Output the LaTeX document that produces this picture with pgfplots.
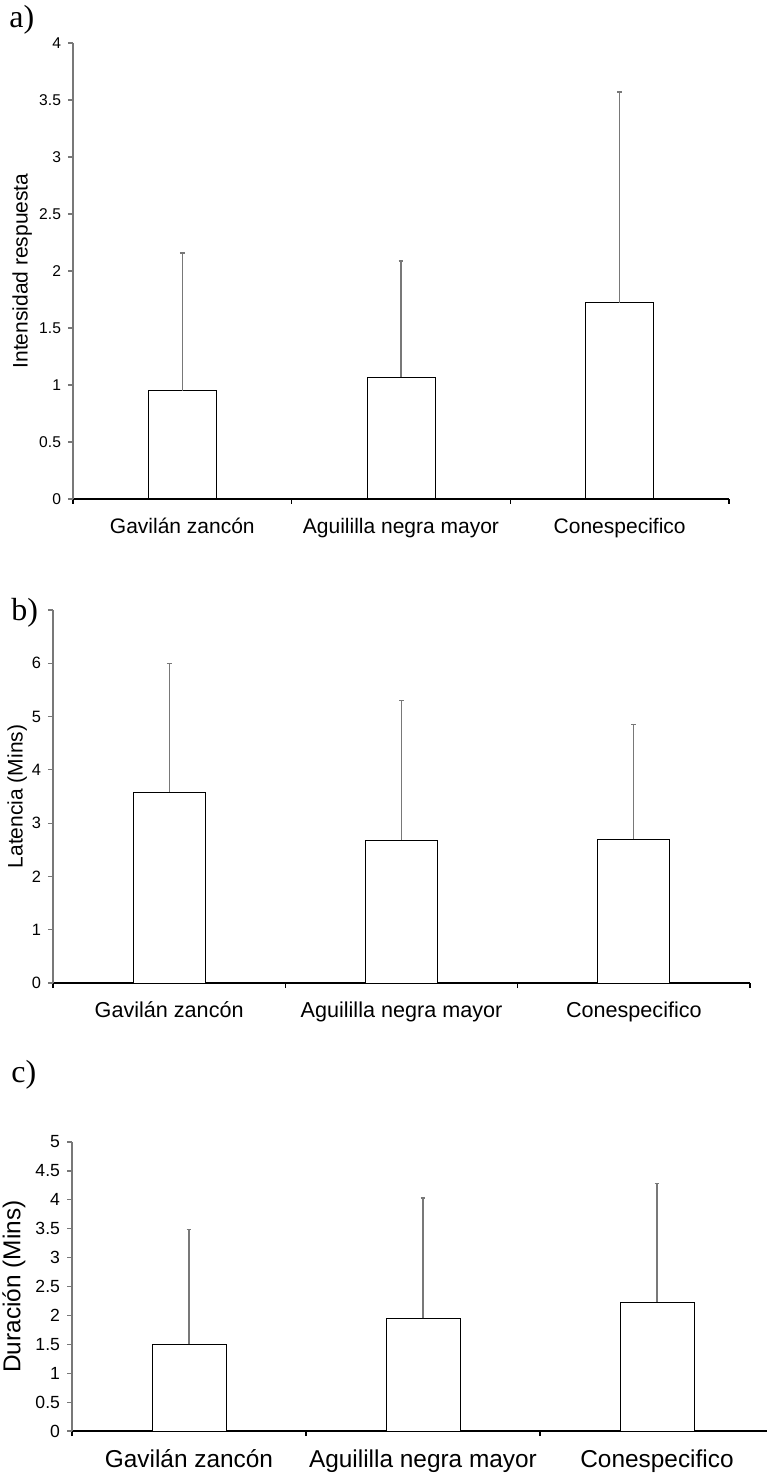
\documentclass[border=0pt]{standalone}
\usepackage{pgfplots}
\pgfplotsset{compat=1.18}
\usepackage{fontspec}
\setmainfont{Liberation Sans}
\newfontfamily\seriffont{Liberation Serif}
\definecolor{axgray}{RGB}{120,120,120}
\pgfplotsset{
  myax/.style={
    scale only axis, axis lines=left, axis line style={-},
    x axis line style={black, line width=0.6pt},
    y axis line style={axgray, line width=0.8pt},
    xmin=-0.5, xmax=2.5, ymin=0,
    xtick={-0.5,0.5,1.5,2.5}, xticklabels={},
    extra x ticks={0,1,2},
    extra x tick labels={Gavilán zancón, Aguililla negra mayor, Conespecifico},
    extra x tick style={major tick length=0pt},
    tick align=outside, major tick length=2.5pt,
    ytick style={axgray, line width=0.6pt}, xtick style={black, line width=0.6pt},
    /pgf/number format/assume math mode=true,
    ybar,
    clip=false,
  },
  mybar/.style={draw=black, fill=white, line width=0.5pt,
    error bars/.cd, y dir=plus, y explicit,
    error bar style={axgray, line width=0.6pt},
    error mark options={axgray, line width=0.8pt, mark size=1.2pt, rotate=90}},
}
\begin{document}
\begin{tikzpicture}
\useasboundingbox (0,0) rectangle (383pt,-737.5pt);
% panel a
\node[anchor=west, font=\seriffont\fontsize{16}{16}\selectfont, inner sep=0pt] at (4.5pt,-10pt) {a)};
\begin{axis}[myax, at={(36.5pt,-249.5pt)}, anchor=south west,
  width=328pt, height=228pt, ymax=4,
  ytick={0,0.5,...,4},
  bar width=34pt,
  yticklabel style={font=\fontsize{7.8}{8}\selectfont},
  extra x tick style={tick label style={font=\fontsize{10.5}{11}\selectfont, text height=0.8em, text depth=0.22em, yshift=-5.5pt}},
  ylabel={Intensidad respuesta},
  ylabel style={at={(axis description cs:-0.093,0.5)}, rotate=0, anchor=north, inner sep=0pt, font=\fontsize{10.5}{11}\selectfont},
]
\addplot[mybar] coordinates {(0,0.95) +- (0,1.21) (1,1.07) +- (0,1.02) (2,1.72) +- (0,1.85)};
\end{axis}
% panel b
\node[anchor=west, font=\seriffont\fontsize{16}{16}\selectfont, inner sep=0pt] at (5.5pt,-306.5pt) {b)};
\begin{axis}[myax, at={(26.5pt,-491.5pt)}, anchor=south west,
  width=348.5pt, height=186.5pt, ymax=7,
  ytick={0,1,...,7}, yticklabels={0,1,2,3,4,5,6,},
  bar width=36pt,
  yticklabel style={font=\fontsize{8.2}{8}\selectfont},
  extra x tick style={tick label style={font=\fontsize{10.8}{11}\selectfont, text height=0.8em, text depth=0.22em, yshift=-5.5pt}},
  ylabel={Latencia (Mins)},
  ylabel style={at={(axis description cs:-0.066,0.5)}, anchor=north, inner sep=0pt, font=\fontsize{10.5}{11}\selectfont},
]
\addplot[mybar] coordinates {(0,3.58) +- (0,2.42) (1,2.68) +- (0,2.62) (2,2.70) +- (0,2.15)};
\end{axis}
% panel c
\node[anchor=west, font=\seriffont\fontsize{16}{16}\selectfont, inner sep=0pt] at (5.5pt,-537.5pt) {c)};
\begin{axis}[myax, at={(36pt,-715.5pt)}, anchor=south west,
  width=351pt, height=144.5pt, ymax=5,
  ytick={0,0.5,...,5},
  bar width=37pt,
  yticklabel style={font=\fontsize{8.8}{9}\selectfont},
  extra x tick style={tick label style={font=\fontsize{12.2}{12}\selectfont, text height=0.8em, text depth=0.22em, yshift=-6.5pt}},
  ylabel={Duración (Mins)},
  ylabel style={at={(axis description cs:-0.0997,0.5)}, anchor=north, inner sep=0pt, font=\fontsize{12.2}{12}\selectfont},
]
\addplot[mybar] coordinates {(0,1.50) +- (0,1.99) (1,1.95) +- (0,2.08) (2,2.23) +- (0,2.05)};
\end{axis}
\end{tikzpicture}
\end{document}
